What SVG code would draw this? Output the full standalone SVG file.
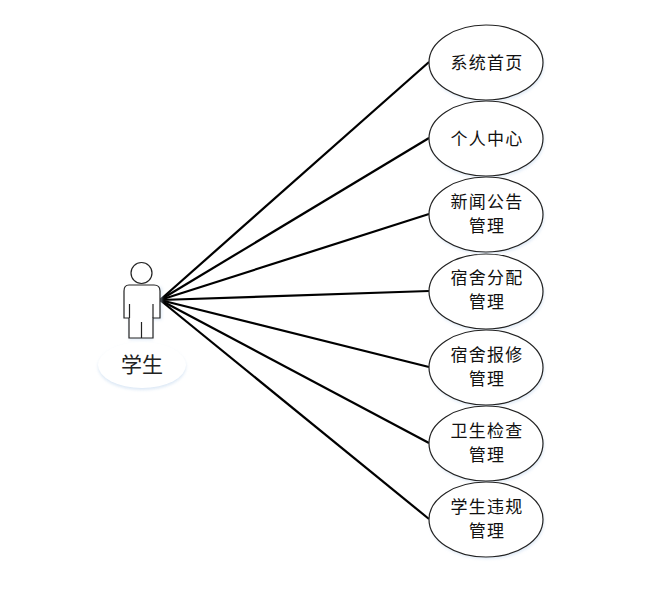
<svg xmlns="http://www.w3.org/2000/svg" width="653" height="594" viewBox="0 0 653 594">
<style>
text{font-family:"Noto Sans CJK SC","Liberation Sans",sans-serif;font-size:17px;fill:#111;text-anchor:middle;letter-spacing:1.300px}
.uc{fill:#fff;stroke:#222;stroke-width:1.200}
.line{stroke:#000;stroke-width:2.200;fill:none}
.shadow{fill:#c5d9ef;opacity:.55;filter:url(#blur)}
</style>
<defs><filter id="blur" x="-20%" y="-20%" width="140%" height="140%"><feGaussianBlur stdDeviation="1.500"/></filter></defs>
<rect width="653" height="594" fill="#fff"/>
<g id="connectors">
<path class="line" d="M160 300L429 62"/>
<path class="line" d="M160 300L429 138"/>
<path class="line" d="M160 300L429 214"/>
<path class="line" d="M160 300L429 291"/>
<path class="line" d="M160 300L429 367"/>
<path class="line" d="M160 300L429 443"/>
<path class="line" d="M160 300L429 519"/>
</g>
<g id="actor">
<ellipse cx="142" cy="367" rx="44" ry="23" fill="#c5d9ef" opacity=".6" filter="url(#blur)"/>
<ellipse cx="142" cy="365" rx="44" ry="23" fill="#fff"/>
<path d="M128 287h34v33h-9v20h-24v-20h-1z" fill="#c5d9ef" opacity=".5" filter="url(#blur)"/>
<circle cx="141.500" cy="273" r="10.500" fill="#fff" stroke="#222" stroke-width="1.200"/>
<path d="M129 285h25q6 0 6 6v27h-7v20h-24v-20h-5v-27q0-6 5-6z" fill="#fff" stroke="#222" stroke-width="1.200"/>
<path d="M129.500 304v14M153 304v14M141.500 322v16" fill="none" stroke="#222" stroke-width="1.200"/>
<text x="142" y="372" style="font-size:21px;letter-spacing:0;fill:#222">学生</text>
</g>
<g id="uc1"><ellipse class="shadow" cx="487" cy="65" rx="57" ry="37"/><ellipse class="uc" cx="486" cy="62.500" rx="57" ry="37.500"/><text x="487" y="69">系统首页</text></g>
<g id="uc2"><ellipse class="shadow" cx="487" cy="141" rx="57" ry="37"/><ellipse class="uc" cx="486" cy="138.500" rx="57" ry="37.500"/><text x="487" y="145">个人中心</text></g>
<g id="uc3"><ellipse class="shadow" cx="487" cy="217" rx="57" ry="37"/><ellipse class="uc" cx="486" cy="214.500" rx="57" ry="37.500"/><text x="487" y="208">新闻公告</text><text x="487" y="232">管理</text></g>
<g id="uc4"><ellipse class="shadow" cx="487" cy="294" rx="57" ry="37"/><ellipse class="uc" cx="486" cy="291.500" rx="57" ry="37.500"/><text x="487" y="284">宿舍分配</text><text x="487" y="308">管理</text></g>
<g id="uc5"><ellipse class="shadow" cx="487" cy="370" rx="57" ry="37"/><ellipse class="uc" cx="486" cy="367.500" rx="57" ry="37.500"/><text x="487" y="361">宿舍报修</text><text x="487" y="385">管理</text></g>
<g id="uc6"><ellipse class="shadow" cx="487" cy="446" rx="57" ry="37"/><ellipse class="uc" cx="486" cy="443.500" rx="57" ry="37.500"/><text x="487" y="437">卫生检查</text><text x="487" y="461">管理</text></g>
<g id="uc7"><ellipse class="shadow" cx="487" cy="522" rx="57" ry="37"/><ellipse class="uc" cx="486" cy="519.500" rx="57" ry="37.500"/><text x="487" y="513">学生违规</text><text x="487" y="537">管理</text></g>
</svg>
